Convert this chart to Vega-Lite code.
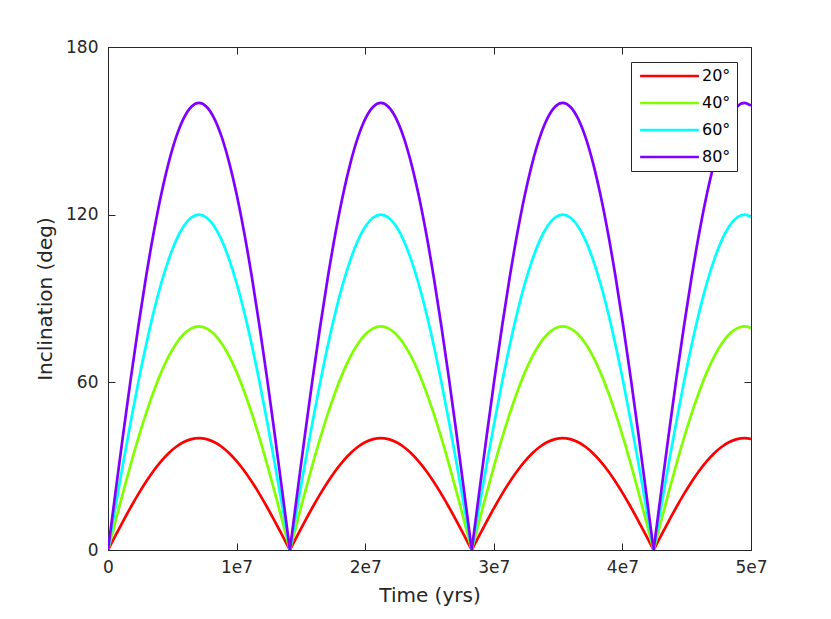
{
  "$schema": "https://vega.github.io/schema/vega-lite/v6.json",
  "autosize": {"type": "none"},
  "padding": {"left": 108, "top": 47, "right": 80, "bottom": 69},
  "width": 643,
  "height": 503,
  "background": "white",
  "config": {
    "font": "DejaVu Sans",
    "view": {"stroke": "#262626", "strokeWidth": 1},
    "axis": {"grid": false, "domainColor": "#262626", "tickColor": "#262626", "labelColor": "#262626", "titleColor": "#262626", "labelFont": "DejaVu Sans", "titleFont": "DejaVu Sans", "labelFontSize": 17, "titleFontSize": 20, "titleFontWeight": "normal", "tickWidth": 1}
  },
  "data": {"values": [
    {"arch": 1, "t": 0, "a20": 0, "a40": 0, "a60": 0, "a80": 0},
    {"arch": 1, "t": 589250, "a20": 5.22, "a40": 10.44, "a60": 15.66, "a80": 20.88},
    {"arch": 1, "t": 1178500, "a20": 10.35, "a40": 20.71, "a60": 31.06, "a80": 41.41},
    {"arch": 1, "t": 1767750, "a20": 15.31, "a40": 30.61, "a60": 45.92, "a80": 61.23},
    {"arch": 1, "t": 2357000, "a20": 20, "a40": 40, "a60": 60, "a80": 80},
    {"arch": 1, "t": 2946250, "a20": 24.35, "a40": 48.7, "a60": 73.05, "a80": 97.4},
    {"arch": 1, "t": 3535500, "a20": 28.28, "a40": 56.57, "a60": 84.85, "a80": 113.14},
    {"arch": 1, "t": 4124750, "a20": 31.73, "a40": 63.47, "a60": 95.2, "a80": 126.94},
    {"arch": 1, "t": 4714000, "a20": 34.64, "a40": 69.28, "a60": 103.92, "a80": 138.56},
    {"arch": 1, "t": 5303250, "a20": 36.96, "a40": 73.91, "a60": 110.87, "a80": 147.82},
    {"arch": 1, "t": 5892500, "a20": 38.64, "a40": 77.27, "a60": 115.91, "a80": 154.55},
    {"arch": 1, "t": 6481750, "a20": 39.66, "a40": 79.32, "a60": 118.97, "a80": 158.63},
    {"arch": 1, "t": 7071000, "a20": 40, "a40": 80, "a60": 120, "a80": 160},
    {"arch": 1, "t": 7660250, "a20": 39.66, "a40": 79.32, "a60": 118.97, "a80": 158.63},
    {"arch": 1, "t": 8249500, "a20": 38.64, "a40": 77.27, "a60": 115.91, "a80": 154.55},
    {"arch": 1, "t": 8838750, "a20": 36.96, "a40": 73.91, "a60": 110.87, "a80": 147.82},
    {"arch": 1, "t": 9428000, "a20": 34.64, "a40": 69.28, "a60": 103.92, "a80": 138.56},
    {"arch": 1, "t": 10017250, "a20": 31.73, "a40": 63.47, "a60": 95.2, "a80": 126.94},
    {"arch": 1, "t": 10606500, "a20": 28.28, "a40": 56.57, "a60": 84.85, "a80": 113.14},
    {"arch": 1, "t": 11195750, "a20": 24.35, "a40": 48.7, "a60": 73.05, "a80": 97.4},
    {"arch": 1, "t": 11785000, "a20": 20, "a40": 40, "a60": 60, "a80": 80},
    {"arch": 1, "t": 12374250, "a20": 15.31, "a40": 30.61, "a60": 45.92, "a80": 61.23},
    {"arch": 1, "t": 12963500, "a20": 10.35, "a40": 20.71, "a60": 31.06, "a80": 41.41},
    {"arch": 1, "t": 13552750, "a20": 5.22, "a40": 10.44, "a60": 15.66, "a80": 20.88},
    {"arch": 1, "t": 14142000, "a20": 0, "a40": 0, "a60": 0, "a80": 0},
    {"arch": 2, "t": 14142000, "a20": 0, "a40": 0, "a60": 0, "a80": 0},
    {"arch": 2, "t": 14731250, "a20": 5.22, "a40": 10.44, "a60": 15.66, "a80": 20.88},
    {"arch": 2, "t": 15320500, "a20": 10.35, "a40": 20.71, "a60": 31.06, "a80": 41.41},
    {"arch": 2, "t": 15909750, "a20": 15.31, "a40": 30.61, "a60": 45.92, "a80": 61.23},
    {"arch": 2, "t": 16499000, "a20": 20, "a40": 40, "a60": 60, "a80": 80},
    {"arch": 2, "t": 17088250, "a20": 24.35, "a40": 48.7, "a60": 73.05, "a80": 97.4},
    {"arch": 2, "t": 17677500, "a20": 28.28, "a40": 56.57, "a60": 84.85, "a80": 113.14},
    {"arch": 2, "t": 18266750, "a20": 31.73, "a40": 63.47, "a60": 95.2, "a80": 126.94},
    {"arch": 2, "t": 18856000, "a20": 34.64, "a40": 69.28, "a60": 103.92, "a80": 138.56},
    {"arch": 2, "t": 19445250, "a20": 36.96, "a40": 73.91, "a60": 110.87, "a80": 147.82},
    {"arch": 2, "t": 20034500, "a20": 38.64, "a40": 77.27, "a60": 115.91, "a80": 154.55},
    {"arch": 2, "t": 20623750, "a20": 39.66, "a40": 79.32, "a60": 118.97, "a80": 158.63},
    {"arch": 2, "t": 21213000, "a20": 40, "a40": 80, "a60": 120, "a80": 160},
    {"arch": 2, "t": 21802250, "a20": 39.66, "a40": 79.32, "a60": 118.97, "a80": 158.63},
    {"arch": 2, "t": 22391500, "a20": 38.64, "a40": 77.27, "a60": 115.91, "a80": 154.55},
    {"arch": 2, "t": 22980750, "a20": 36.96, "a40": 73.91, "a60": 110.87, "a80": 147.82},
    {"arch": 2, "t": 23570000, "a20": 34.64, "a40": 69.28, "a60": 103.92, "a80": 138.56},
    {"arch": 2, "t": 24159250, "a20": 31.73, "a40": 63.47, "a60": 95.2, "a80": 126.94},
    {"arch": 2, "t": 24748500, "a20": 28.28, "a40": 56.57, "a60": 84.85, "a80": 113.14},
    {"arch": 2, "t": 25337750, "a20": 24.35, "a40": 48.7, "a60": 73.05, "a80": 97.4},
    {"arch": 2, "t": 25927000, "a20": 20, "a40": 40, "a60": 60, "a80": 80},
    {"arch": 2, "t": 26516250, "a20": 15.31, "a40": 30.61, "a60": 45.92, "a80": 61.23},
    {"arch": 2, "t": 27105500, "a20": 10.35, "a40": 20.71, "a60": 31.06, "a80": 41.41},
    {"arch": 2, "t": 27694750, "a20": 5.22, "a40": 10.44, "a60": 15.66, "a80": 20.88},
    {"arch": 2, "t": 28284000, "a20": 0, "a40": 0, "a60": 0, "a80": 0},
    {"arch": 3, "t": 28284000, "a20": 0, "a40": 0, "a60": 0, "a80": 0},
    {"arch": 3, "t": 28873250, "a20": 5.22, "a40": 10.44, "a60": 15.66, "a80": 20.88},
    {"arch": 3, "t": 29462500, "a20": 10.35, "a40": 20.71, "a60": 31.06, "a80": 41.41},
    {"arch": 3, "t": 30051750, "a20": 15.31, "a40": 30.61, "a60": 45.92, "a80": 61.23},
    {"arch": 3, "t": 30641000, "a20": 20, "a40": 40, "a60": 60, "a80": 80},
    {"arch": 3, "t": 31230250, "a20": 24.35, "a40": 48.7, "a60": 73.05, "a80": 97.4},
    {"arch": 3, "t": 31819500, "a20": 28.28, "a40": 56.57, "a60": 84.85, "a80": 113.14},
    {"arch": 3, "t": 32408750, "a20": 31.73, "a40": 63.47, "a60": 95.2, "a80": 126.94},
    {"arch": 3, "t": 32998000, "a20": 34.64, "a40": 69.28, "a60": 103.92, "a80": 138.56},
    {"arch": 3, "t": 33587250, "a20": 36.96, "a40": 73.91, "a60": 110.87, "a80": 147.82},
    {"arch": 3, "t": 34176500, "a20": 38.64, "a40": 77.27, "a60": 115.91, "a80": 154.55},
    {"arch": 3, "t": 34765750, "a20": 39.66, "a40": 79.32, "a60": 118.97, "a80": 158.63},
    {"arch": 3, "t": 35355000, "a20": 40, "a40": 80, "a60": 120, "a80": 160},
    {"arch": 3, "t": 35944250, "a20": 39.66, "a40": 79.32, "a60": 118.97, "a80": 158.63},
    {"arch": 3, "t": 36533500, "a20": 38.64, "a40": 77.27, "a60": 115.91, "a80": 154.55},
    {"arch": 3, "t": 37122750, "a20": 36.96, "a40": 73.91, "a60": 110.87, "a80": 147.82},
    {"arch": 3, "t": 37712000, "a20": 34.64, "a40": 69.28, "a60": 103.92, "a80": 138.56},
    {"arch": 3, "t": 38301250, "a20": 31.73, "a40": 63.47, "a60": 95.2, "a80": 126.94},
    {"arch": 3, "t": 38890500, "a20": 28.28, "a40": 56.57, "a60": 84.85, "a80": 113.14},
    {"arch": 3, "t": 39479750, "a20": 24.35, "a40": 48.7, "a60": 73.05, "a80": 97.4},
    {"arch": 3, "t": 40069000, "a20": 20, "a40": 40, "a60": 60, "a80": 80},
    {"arch": 3, "t": 40658250, "a20": 15.31, "a40": 30.61, "a60": 45.92, "a80": 61.23},
    {"arch": 3, "t": 41247500, "a20": 10.35, "a40": 20.71, "a60": 31.06, "a80": 41.41},
    {"arch": 3, "t": 41836750, "a20": 5.22, "a40": 10.44, "a60": 15.66, "a80": 20.88},
    {"arch": 3, "t": 42426000, "a20": 0, "a40": 0, "a60": 0, "a80": 0},
    {"arch": 4, "t": 42426000, "a20": 0, "a40": 0, "a60": 0, "a80": 0},
    {"arch": 4, "t": 43015250, "a20": 5.22, "a40": 10.44, "a60": 15.66, "a80": 20.88},
    {"arch": 4, "t": 43604500, "a20": 10.35, "a40": 20.71, "a60": 31.06, "a80": 41.41},
    {"arch": 4, "t": 44193750, "a20": 15.31, "a40": 30.61, "a60": 45.92, "a80": 61.23},
    {"arch": 4, "t": 44783000, "a20": 20, "a40": 40, "a60": 60, "a80": 80},
    {"arch": 4, "t": 45372250, "a20": 24.35, "a40": 48.7, "a60": 73.05, "a80": 97.4},
    {"arch": 4, "t": 45961500, "a20": 28.28, "a40": 56.57, "a60": 84.85, "a80": 113.14},
    {"arch": 4, "t": 46550750, "a20": 31.73, "a40": 63.47, "a60": 95.2, "a80": 126.94},
    {"arch": 4, "t": 47140000, "a20": 34.64, "a40": 69.28, "a60": 103.92, "a80": 138.56},
    {"arch": 4, "t": 47729250, "a20": 36.96, "a40": 73.91, "a60": 110.87, "a80": 147.82},
    {"arch": 4, "t": 48318500, "a20": 38.64, "a40": 77.27, "a60": 115.91, "a80": 154.55},
    {"arch": 4, "t": 48907750, "a20": 39.66, "a40": 79.32, "a60": 118.97, "a80": 158.63},
    {"arch": 4, "t": 49497000, "a20": 40, "a40": 80, "a60": 120, "a80": 160},
    {"arch": 4, "t": 50000000, "a20": 39.75, "a40": 79.5, "a60": 119.25, "a80": 159.0}
  ]},
  "transform": [{"fold": ["a20", "a40", "a60", "a80"], "as": ["series", "inc"]}],
  "layer": [
    {
      "mark": {"type": "line", "strokeWidth": 2.7, "interpolate": "monotone", "clip": true},
      "encoding": {
        "x": {"field": "t", "type": "quantitative", "scale": {"domain": [0, 50000000], "nice": false, "zero": false},
              "axis": {"orient": "bottom", "title": "Time (yrs)", "values": [0, 10000000, 20000000, 30000000, 40000000, 50000000],
                       "labelExpr": "datum.value == 0 ? '0' : (datum.value / 10000000) + 'e7'", "ticks": false, "labelPadding": 9, "titlePadding": 10, "labelFlush": false}},
        "y": {"field": "inc", "type": "quantitative", "scale": {"domain": [0, 180], "nice": false},
              "axis": {"orient": "left", "title": "Inclination (deg)", "values": [0, 60, 120, 180], "ticks": false, "labelPadding": 10, "titlePadding": 10, "labelFlush": false}},
        "detail": {"field": "arch", "type": "nominal"},
        "color": {"field": "series", "type": "nominal",
                  "scale": {"domain": ["a20", "a40", "a60", "a80"], "range": ["#ff0000", "#80ff00", "#00ffff", "#8000ff"]},
                  "legend": {"title": null, "orient": "none", "legendX": 523, "legendY": 15, "fillColor": "white", "strokeColor": "#262626",
                             "padding": 6, "symbolType": "M-1,0H11", "symbolSize": 96, "symbolStrokeWidth": 2.7,
                             "labelFontSize": 16, "labelFont": "DejaVu Sans", "labelColor": "#000000", "rowPadding": 11, "labelOffset": 49,
                             "labelExpr": "slice(datum.label, 1) + '°'"}}
      }
    },
    {
      "mark": {"type": "line", "opacity": 0},
      "encoding": {
        "x": {"field": "t", "type": "quantitative", "scale": {"domain": [0, 50000000], "nice": false, "zero": false},
              "axis": {"orient": "top", "offset": -503, "title": null, "labels": false, "domain": false, "values": [0, 10000000, 20000000, 30000000, 40000000, 50000000], "tickSize": 7}},
        "y": {"field": "inc", "type": "quantitative", "scale": {"domain": [0, 180], "nice": false},
              "axis": {"orient": "right", "offset": -643, "title": null, "labels": false, "domain": false, "values": [0, 60, 120, 180], "tickSize": 7}}
      }
    },
    {
      "mark": {"type": "line", "opacity": 0},
      "encoding": {
        "x": {"field": "t", "type": "quantitative", "scale": {"domain": [0, 50000000], "nice": false, "zero": false},
              "axis": {"orient": "bottom", "offset": -503, "title": null, "labels": false, "domain": false, "values": [0, 10000000, 20000000, 30000000, 40000000, 50000000], "tickSize": 7}},
        "y": {"field": "inc", "type": "quantitative", "scale": {"domain": [0, 180], "nice": false},
              "axis": {"orient": "left", "offset": -643, "title": null, "labels": false, "domain": false, "values": [0, 60, 120, 180], "tickSize": 7}}
      }
    }
  ],
  "resolve": {"axis": {"x": "independent", "y": "independent"}}
}
